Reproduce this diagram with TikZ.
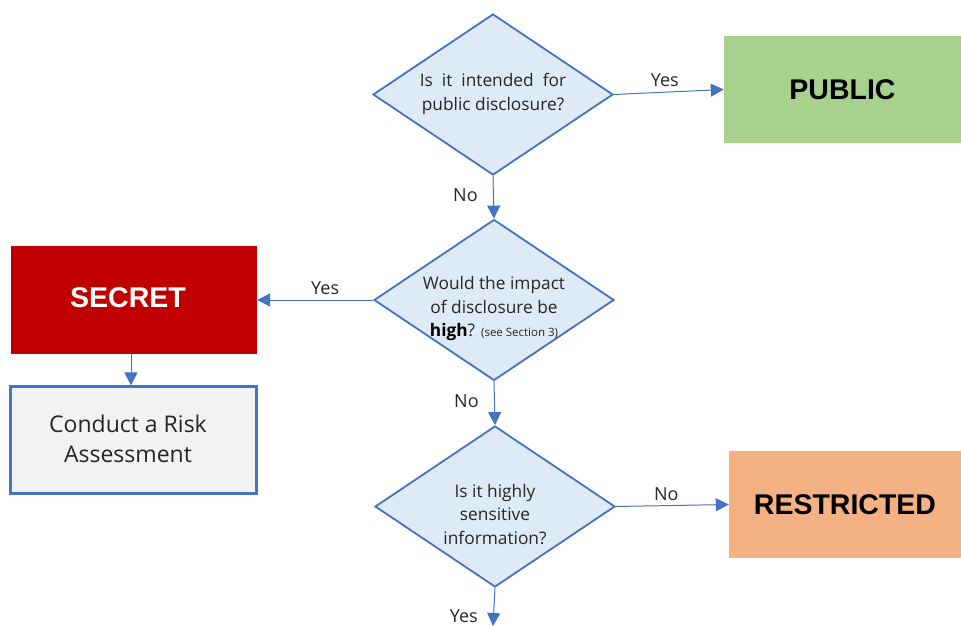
\documentclass[tikz,border=0pt]{standalone}
\usepackage{fontspec}
\setmainfont{Open Sans}
\newfontfamily\boxfont{Liberation Sans}
\usetikzlibrary{shapes.geometric,arrows.meta}
\definecolor{lineblue}{HTML}{4472C4}
\definecolor{diafill}{HTML}{DEEAF6}
\definecolor{secretred}{HTML}{C00000}
\definecolor{pubgreen}{HTML}{A9D18E}
\definecolor{restorange}{HTML}{F4B183}
\definecolor{riskgrey}{HTML}{F2F2F2}
\definecolor{txtgrey}{HTML}{262626}
\tikzset{
  dia/.style={diamond, draw=lineblue, fill=diafill, line width=1.8pt, inner sep=0pt, minimum width=240pt, minimum height=161pt},
  diatext/.style={align=center, font=\fontsize{17.3}{23.5}\selectfont, text=txtgrey},
  outbox/.style={rectangle, inner sep=0pt, font=\boxfont\bfseries\fontsize{28.5}{30}\selectfont},
  conn/.style={draw=lineblue, line width=1pt, -{Triangle[length=13pt,width=13pt]}},
  lbl/.style={font=\fontsize{18}{20}\selectfont, text=txtgrey},
}
\begin{document}
\begin{tikzpicture}[x=1pt,y=-1pt]
\useasboundingbox (0,0) rectangle (961,626);
% diamonds
\node[dia] (d1) at (493,94.5) {};
\node[diatext] at (493,94) {Is\ \ it\ \ intended\ \ for\\public disclosure?};
\node[dia] (d2) at (494,300) {};
\node[diatext, anchor=center] at (494,309) {Would the impact\\of disclosure be\\\textbf{\color{black}high}? {\fontsize{11.5}{13}\selectfont(see Section 3)}};
\node[dia] (d3) at (495,506.5) {};
\node[diatext] at (495,514.5) {Is it highly\\sensitive\\information?};
% boxes
\node[outbox, fill=pubgreen, minimum width=237pt, minimum height=107pt, text=black] (pub) at (842.5,89.5) {PUBLIC};
\node[rectangle, fill=secretred, minimum width=246pt, minimum height=108pt] (sec) at (134,300) {};
\node[outbox, text=white] at (128,298) {SECRET};
\node[rectangle, draw=lineblue, line width=2.2pt, fill=riskgrey, minimum width=246pt, minimum height=107pt, align=center, font=\fontsize{23}{30}\selectfont, text=txtgrey] (risk) at (133.5,440) {};
\node[align=center, font=\fontsize{23}{30}\selectfont, text=txtgrey] at (128,439) {Conduct a Risk\\Assessment};
\node[outbox, fill=restorange, minimum width=232pt, minimum height=107pt, text=black] (res) at (845,504.5) {RESTRICTED};
\coordinate (bot) at (493,626);
% connectors
\draw[conn] (d1.east) -- (pub.west) node[lbl, midway, above=1pt, xshift=-4pt] {Yes};
\draw[conn] (d1.south) -- (d2.north) node[lbl, midway, left=12pt, yshift=2pt] {No};
\draw[conn] (d2.west) -- (sec.east) node[lbl, midway, above=1pt, xshift=10pt] {Yes};
\draw[conn] (d2.south) -- (d3.north) node[lbl, midway, left=12pt, yshift=2pt] {No};
\draw[conn] (d3.east) -- (res.west) node[lbl, midway, above=1pt, xshift=-6pt] {No};
\draw[conn] (d3.south) -- (bot) node[lbl, pos=0.74, left=12pt] {Yes};
\draw[conn] (sec.south -| 131,0) -- (risk.north -| 131,0);
\end{tikzpicture}
\end{document}
